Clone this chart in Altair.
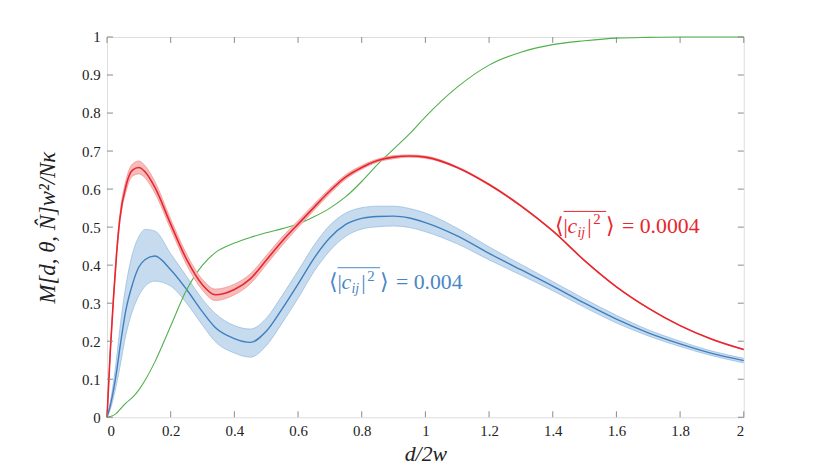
import altair as alt
import pandas as pd

# ---- data ----
x_vals = [0, 0.01, 0.02, 0.03, 0.04, 0.06, 0.08, 0.1, 0.12, 0.15, 0.2, 0.25, 0.3, 0.34, 0.4, 0.45,
          0.5, 0.55, 0.6, 0.65, 0.7, 0.75, 0.8, 0.85, 0.9, 0.95, 1.0, 1.1, 1.2, 1.3,
          1.4, 1.5, 1.6, 1.7, 1.8, 1.9, 2.0]

red_mean = [0, 0.17, 0.31, 0.43, 0.52, 0.61, 0.65, 0.657, 0.645, 0.605, 0.508, 0.415, 0.348, 0.322,
            0.336, 0.364, 0.413, 0.463, 0.508, 0.552, 0.595, 0.632, 0.657, 0.675, 0.684,
            0.687, 0.684, 0.657, 0.612, 0.556, 0.490, 0.412, 0.343, 0.287, 0.241, 0.205, 0.178]
red_upper = [0, 0.172, 0.315, 0.437, 0.53, 0.625, 0.666, 0.674, 0.661, 0.620, 0.521, 0.429, 0.362, 0.337,
             0.350, 0.377, 0.425, 0.474, 0.517, 0.560, 0.602, 0.638, 0.662, 0.679, 0.688,
             0.690, 0.687, 0.659, 0.614, 0.558, 0.491, 0.413, 0.344, 0.288, 0.242, 0.206, 0.179]
red_lower = [0, 0.168, 0.305, 0.423, 0.51, 0.595, 0.634, 0.640, 0.629, 0.590, 0.495, 0.401, 0.334, 0.307,
             0.322, 0.351, 0.401, 0.452, 0.499, 0.544, 0.588, 0.626, 0.652, 0.671, 0.680,
             0.684, 0.681, 0.655, 0.610, 0.554, 0.489, 0.411, 0.342, 0.286, 0.240, 0.204, 0.177]

blue_mean = [0, 0.03, 0.07, 0.12, 0.18, 0.285, 0.35, 0.395, 0.415, 0.424, 0.388, 0.336, 0.277, 0.236,
             0.207, 0.197, 0.226, 0.285, 0.350, 0.418, 0.472, 0.507, 0.523, 0.528, 0.529,
             0.524, 0.512, 0.477, 0.431, 0.388, 0.345, 0.300, 0.258, 0.222, 0.193, 0.168, 0.149]
blue_upper = [0, 0.04, 0.09, 0.155, 0.23, 0.35, 0.43, 0.475, 0.494, 0.49, 0.43, 0.37, 0.31, 0.273,
              0.241, 0.232, 0.260, 0.32, 0.385, 0.452, 0.505, 0.537, 0.551, 0.555, 0.555,
              0.549, 0.537, 0.497, 0.448, 0.402, 0.357, 0.311, 0.268, 0.230, 0.200, 0.174, 0.155]
blue_lower = [0, 0.02, 0.05, 0.088, 0.13, 0.22, 0.28, 0.32, 0.345, 0.358, 0.345, 0.30, 0.242, 0.199,
              0.169, 0.158, 0.188, 0.248, 0.313, 0.383, 0.438, 0.476, 0.495, 0.501, 0.503,
              0.499, 0.488, 0.456, 0.414, 0.374, 0.333, 0.289, 0.248, 0.214, 0.186, 0.162, 0.143]

green = [0, 0.002, 0.005, 0.011, 0.02, 0.038, 0.052, 0.072, 0.098, 0.145, 0.24, 0.335, 0.40, 0.433,
         0.458, 0.473, 0.485, 0.496, 0.508, 0.527, 0.55, 0.58, 0.62, 0.665, 0.705, 0.745,
         0.79, 0.868, 0.926, 0.96, 0.98, 0.99, 0.997, 0.999, 1.0, 1.0, 1.0]

x_ticks = [0, 0.2, 0.4, 0.6, 0.8, 1.0, 1.2, 1.4, 1.6, 1.8, 2.0]
y_ticks = [0, 0.1, 0.2, 0.3, 0.4, 0.5, 0.6, 0.7, 0.8, 0.9, 1.0]

# annotation labels (anchor = left end of the text, on its baseline)
label_x = [0.696, 1.406]
label_y = [0.336, 0.484]
label_value = ["= 0.004", "= 0.0004"]
label_color = ["#4a86c5", "#e8262d"]

W, H = 643, 384
SERIF = "Liberation Serif, serif"
GRAY = "#8a8a8a"

df = pd.DataFrame({
    "x": x_vals, "red": red_mean, "red_hi": red_upper, "red_lo": red_lower,
    "blue": blue_mean, "blue_hi": blue_upper, "blue_lo": blue_lower, "green": green,
})

xs = alt.Scale(domain=[0, 2], nice=False)
ys = alt.Scale(domain=[0, 1], nice=False)

x_axis = alt.Axis(values=x_ticks, format=".1~f", ticks=False, domain=False, grid=False,
                  labelFont=SERIF, labelFontSize=15, labelColor="#222", labelPadding=6,
                  title="d/2w", titleFont=SERIF, titleFontStyle="italic", titleFontSize=22,
                  titleFontWeight="normal", titleColor="#222", titleY=37,
                  titleBaseline="middle")
y_axis = alt.Axis(values=y_ticks, format=".1~f", ticks=False, domain=False, grid=False,
                  labelFont=SERIF, labelFontSize=15, labelColor="#222", labelPadding=7,
                  title="M[d, θ, N̂]w²/Nκ", titleFont=SERIF, titleFontStyle="italic",
                  titleFontSize=23, titleFontWeight="normal", titleColor="#222",
                  titleAngle=270, titleX=-60, titleY=192, titleAlign="center",
                  titleBaseline="middle")


def X(field):
    return alt.X(f"{field}:Q", scale=xs, axis=x_axis)


def Y(field):
    return alt.Y(f"{field}:Q", scale=ys, axis=y_axis)


base = alt.Chart(df)


def band(lo, hi, fill, edge):
    area = base.mark_area(color=fill, opacity=1, interpolate="monotone").encode(
        x=X("x"), y=Y(lo), y2=f"{hi}:Q")
    e1 = base.mark_line(color=edge, strokeWidth=0.7, interpolate="monotone").encode(
        x=X("x"), y=Y(lo))
    e2 = base.mark_line(color=edge, strokeWidth=0.7, interpolate="monotone").encode(
        x=X("x"), y=Y(hi))
    return [area, e1, e2]


def line(field, color, width):
    return base.mark_line(color=color, strokeWidth=width, interpolate="monotone").encode(
        x=X("x"), y=Y(field))


layers = []
layers += band("blue_lo", "blue_hi", "#c6dbee", "#8fb6dd")
layers.append(line("blue", "#3f7fc0", 1.4))
layers.append(line("green", "#4fb04c", 1.1))
layers += band("red_lo", "red_hi", "#f6bcbc", "#ef8a8a")
layers.append(line("red", "#e8262d", 1.6))

# ---- math-like annotation labels built from pieces ----
lab = pd.DataFrame({"x": label_x, "y": label_y, "v": label_value, "c": label_color})
lab_base = alt.Chart(lab)
pieces = [
    # text, dx, dy, size, style
    ("⟨", 0, 0, 22, "normal"),
    ("|", 9, 0, 22, "normal"),
    ("c", 13, 0, 22, "italic"),
    ("ij", 23, 4, 14, "italic"),
    ("|", 33, 0, 22, "normal"),
    ("2", 39, -9, 15, "normal"),
    ("⟩", 52, 0, 22, "normal"),
]
for t, dx, dy, sz, st in pieces:
    layers.append(lab_base.mark_text(align="left", baseline="alphabetic", font=SERIF,
                                     fontSize=sz, fontStyle=st, dx=dx, dy=dy, text=t).encode(
        x=X("x"), y=Y("y"), color=alt.Color("c:N", scale=None)))
layers.append(lab_base.mark_text(align="left", baseline="alphabetic", font=SERIF,
                                 fontSize=22, dx=68).encode(
    x=X("x"), y=Y("y"), text="v:N", color=alt.Color("c:N", scale=None)))
layers.append(lab_base.mark_rule(strokeWidth=1, xOffset=9, x2Offset=52,
                                 yOffset=-22, y2Offset=-22).encode(
    x=X("x"), x2="x:Q", y=Y("y"), y2="y:Q", color=alt.Color("c:N", scale=None)))

# ---- inward ticks on all four sides ----
xt = pd.DataFrame({"t": x_ticks})
yt = pd.DataFrame({"t": y_ticks})
tk = dict(color=GRAY, strokeWidth=1)
layers.append(alt.Chart(xt).mark_rule(**tk).encode(
    x=X("t"), y=alt.value(H), y2=alt.value(H - 6)))
layers.append(alt.Chart(xt).mark_rule(**tk).encode(
    x=X("t"), y=alt.value(0), y2=alt.value(6)))
layers.append(alt.Chart(yt).mark_rule(**tk).encode(
    y=Y("t"), x=alt.value(0), x2=alt.value(6)))
layers.append(alt.Chart(yt).mark_rule(**tk).encode(
    y=Y("t"), x=alt.value(W - 6), x2=alt.value(W)))

chart = alt.layer(*layers).properties(
    width=W, height=H,
    autosize=alt.AutoSizeParams(type="none"),
    padding={"left": 100, "top": 27, "right": 79, "bottom": 53},
).configure_view(stroke=GRAY, strokeWidth=1).configure(background="white")

chart.save("out.html", embed_options={"renderer": "svg", "actions": False})
